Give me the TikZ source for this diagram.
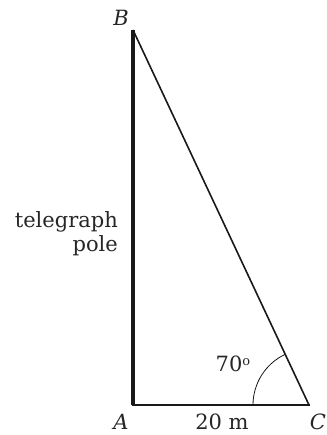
\documentclass[tikz,border=0pt]{standalone}
\usepackage{fontspec}
\setmainfont{DejaVu Serif}
\usetikzlibrary{angles}

\begin{document}
\begin{tikzpicture}[x=1pt, y=1pt]
  \def\pw{326} \def\ph{435}
  \useasboundingbox (0,0) rectangle (\pw,\ph);
  \tikzset{lbl/.style={font=\fontsize{21}{25}\selectfont, text=black!85, inner sep=0pt}}

  % corners of the triangle
  \coordinate (A) at (133,30);
  \coordinate (B) at (133,405);
  \coordinate (C) at (309,30);

  % pole, ground and wire
  \draw[black!90, line width=4.5pt] (A) -- (B);
  \draw[black!90, line width=2pt, line cap=rect] (A) -- (C);
  \draw[black!90, line width=1.6pt] (B) -- (C);
  \pic[draw, black!90, line width=0.8pt, angle radius=56pt] {angle = B--C--A};

  % labels
  \node[lbl] (labB) at (121,417) {\itshape B};
  \node[lbl] (labA) at (121,13) {\itshape A};
  \node[lbl] (labC) at (318,13) {\itshape C};
  \node[lbl] (dist) at (222,13) {20 m};
  \node[lbl] (ang) at (233,71) {70\raisebox{0.55ex}{\fontsize{13}{13}\selectfont o}};
  \node[lbl, align=right, anchor=east] (pole) at (118,201) {telegraph\\[-1pt]pole};
\end{tikzpicture}
\end{document}
